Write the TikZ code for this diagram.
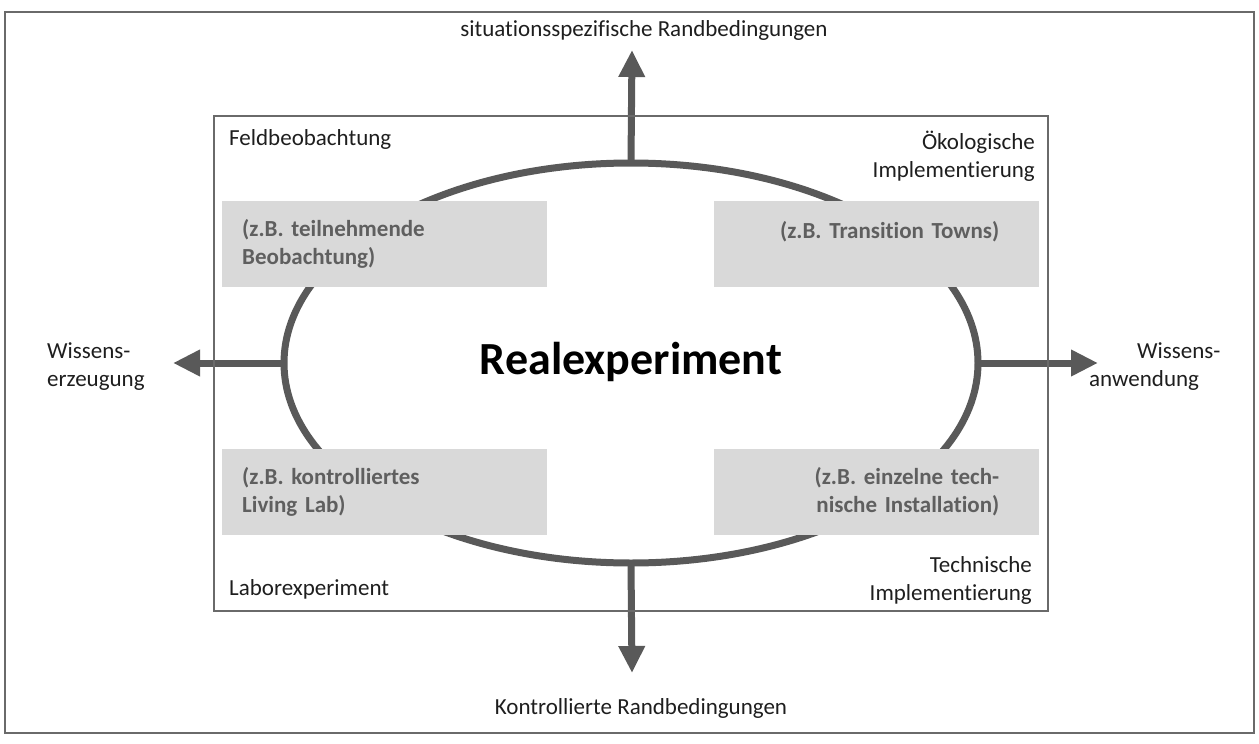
\documentclass[tikz,border=0pt]{standalone}
\usepackage{fontspec}
\setmainfont[Ligatures=NoCommon]{Carlito}
\usetikzlibrary{arrows.meta,shapes.geometric}
\frenchspacing
\definecolor{arrgray}{HTML}{595959}
\definecolor{boxgray}{HTML}{D9D9D9}
\definecolor{boxtext}{HTML}{5F5F5F}
\definecolor{labtext}{HTML}{1E1E1E}
\definecolor{framegray}{HTML}{6A6A6A}
\tikzset{
  lab/.style={inner sep=0pt, text=labtext, font=\fontsize{23}{28}\selectfont},
  arr/.style={draw=arrgray, line width=7pt, -{Triangle[width=25pt,length=27pt]}},
  exbox/.style={fill=boxgray, minimum height=86pt, inner ysep=0pt, text=boxtext,
    font=\bfseries\fontsize{23}{28}\selectfont},
  exleft/.style={exbox, inner xsep=20pt, text width=285pt, align=left},
  exright/.style={exbox, inner xsep=40pt, text width=245pt, align=right},
}
\begin{document}
\begin{tikzpicture}[x=1pt,y=-1pt]
\useasboundingbox (0,0) rectangle (1259,744);
% outer border
\draw[framegray, line width=1.6pt] (5,12) rectangle (1254,733);
% ellipse
\node[ellipse, draw=arrgray, line width=7pt, outer sep=0pt, inner sep=0pt,
      minimum width=694pt, minimum height=400pt] (ell) at (631,363) {};
% arrow tips
\coordinate (ntip) at (632,50);
\coordinate (stip) at (632,673);
\coordinate (wtip) at (173,363);
\coordinate (etip) at (1098,363);
\draw[arr] (ell.north) -- (ntip);
\draw[arr] (ell.south) -- (stip);
\draw[arr] (ell.west) -- (wtip);
\draw[arr] (ell.east) -- (etip);
% inner frame
\draw[framegray, line width=1.4pt] (214,116) rectangle (1048,611);
% grey example boxes
\node[exleft, anchor=north west] (b1) at (222,201) {(z.B. teilnehmende\\Beobachtung)};
\node[exright, anchor=north west] (b2) at (714,201) {(z.B. Transition Towns)\\\mbox{}};
\node[exleft, anchor=north west] (b3) at (222,449) {(z.B. kontrolliertes\\Living Lab)};
\node[exright, anchor=north west] (b4) at (714,449) {(z.B. einzelne tech-\\nische Installation)};
% centre title
\node[inner sep=0pt, text=black, font=\bfseries\fontsize{46}{50}\selectfont] (title) at (631,362) {Realexperiment};
% corner labels
\node[lab, anchor=west] (feld) at (229,139) {Feldbeobachtung};
\node[lab, anchor=east, align=right] (oeko) at (1035,156) {Ökologische\\Implementierung};
\node[lab, anchor=west] (labor) at (229,589) {Laborexperiment};
\node[lab, anchor=east, align=right] (tech) at (1032,580) {Technische\\Implementierung};
% outer labels
\node[lab] (top) at (644,30) {situationsspezifische Randbedingungen};
\node[lab] (bottom) at (641,708) {Kontrollierte Randbedingungen};
\node[lab, anchor=west, align=left] (wleft) at (47,367) {Wissens-\\erzeugung};
\node[lab, anchor=west, align=left] (wright) at (1089,367) {\hspace*{48pt}Wissens-\\anwendung};
\end{tikzpicture}
\end{document}
